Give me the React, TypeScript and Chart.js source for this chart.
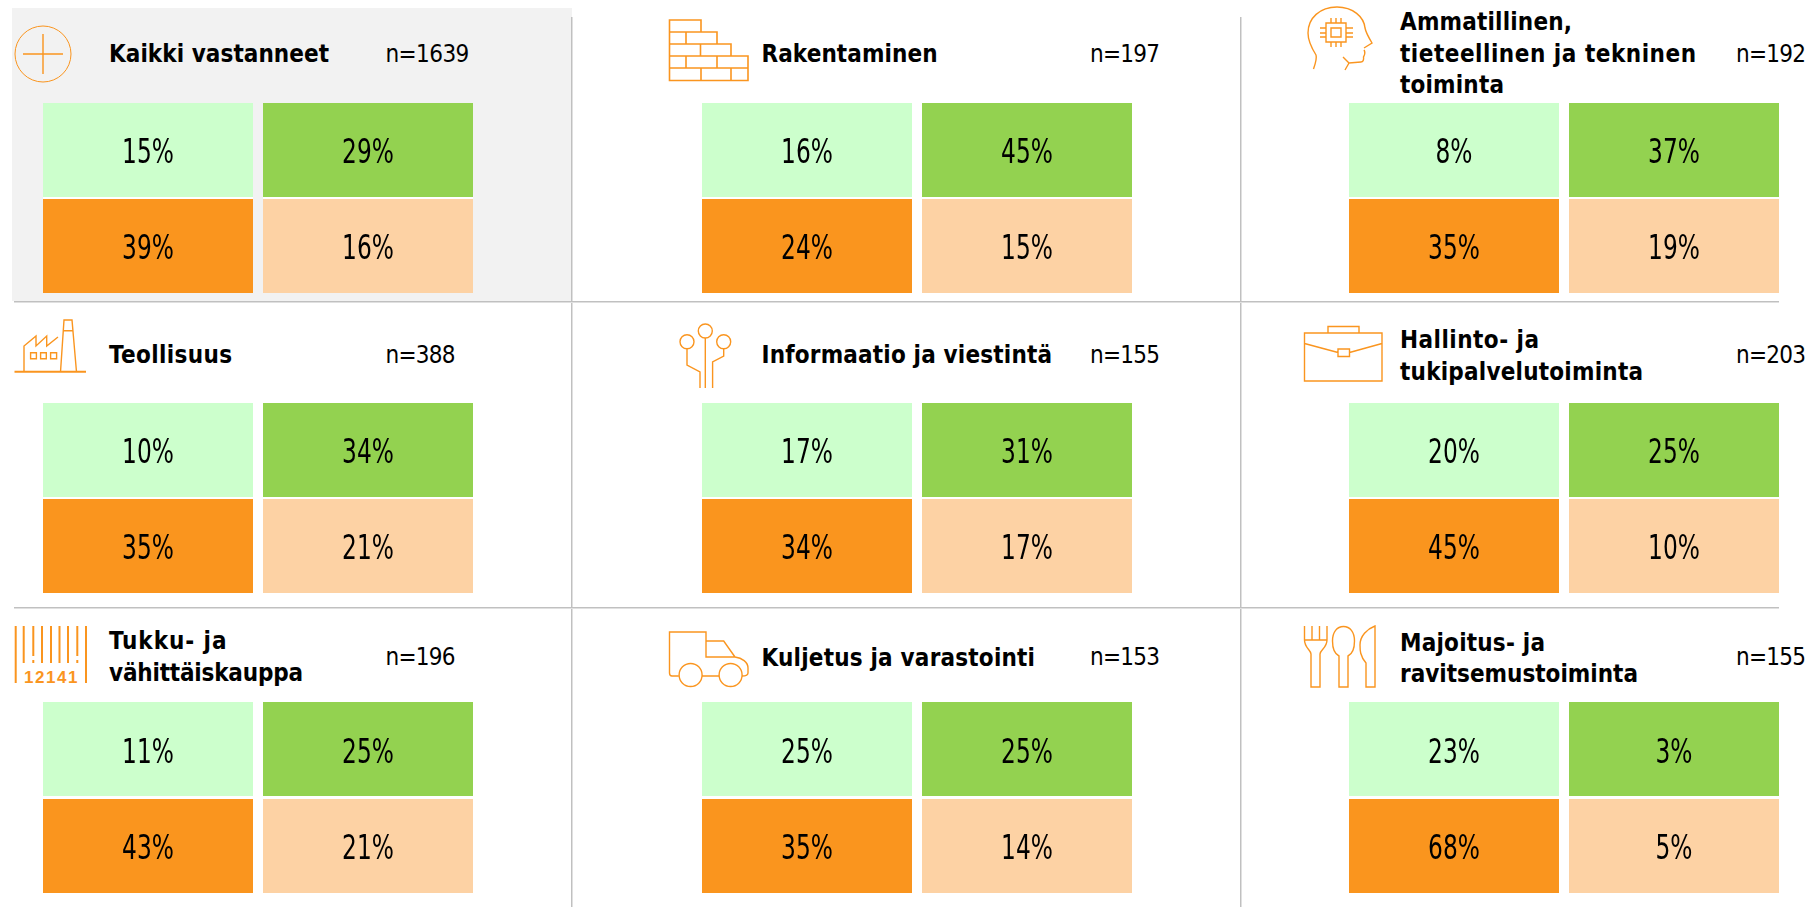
import React, { useEffect, useRef } from "react";
import { Chart, registerables } from "chart.js";

Chart.register(...registerables);

// ---------- data ----------
const categories = [
  "Kaikki vastanneet",
  "Rakentaminen",
  "Ammatillinen,\ntieteellinen ja tekninen\ntoiminta",
  "Teollisuus",
  "Informaatio ja viestintä",
  "Hallinto- ja\ntukipalvelutoiminta",
  "Tukku- ja\nvähittäiskauppa",
  "Kuljetus ja varastointi",
  "Majoitus- ja\nravitsemustoiminta",
];
const sampleSizes = [1639, 197, 192, 388, 155, 203, 196, 153, 155];
const topLeft = [15, 16, 8, 10, 17, 20, 11, 25, 23];
const topRight = [29, 45, 37, 34, 31, 25, 25, 25, 3];
const bottomLeft = [39, 24, 35, 35, 34, 45, 43, 35, 68];
const bottomRight = [16, 15, 19, 21, 17, 10, 21, 14, 5];
const quadrantColumns = ["vasen", "oikea"];
const tileSize = [1, 1];

// ---------- layout & style ----------
const ORANGE = "#fa951f";
const COLORS = { tl: "#ccffcc", tr: "#93d250", bl: "#fa951e", br: "#fdd2a4" };
const FONT = "'DejaVu Sans Condensed','DejaVu Sans',sans-serif";
const colCanvasLeft = [38, 697, 1344];
const rowCanvas = [
  { top: 103, h: 190, gap: 1 },
  { top: 403, h: 190, gap: 1 },
  { top: 702, h: 191, gap: 1.5 },
];
const titleX = [109, 761.5, 1400];
const nX = [385.5, 1090, 1736];
const titleCenterY = [
  [54], [54], [21.7, 53.3, 85],
  [355], [355], [339.5, 371.5],
  [641, 673], [657.5], [642.5, 674],
];
const titleWidths = [
  [220], [176], [172, 296, 104],
  [123], [290.5], [139, 243],
  [117.5, 194], [273.5], [145, 238],
];
const nCenterY = [54, 54, 54, 355, 355, 355, 657, 657, 657];

const tileLabels = {
  id: "tileLabels",
  afterDatasetsDraw(chart: any) {
    const { ctx } = chart;
    chart.data.datasets.forEach((ds: any, di: number) => {
      const meta = chart.getDatasetMeta(di);
      meta.data.forEach((bar: any, i: number) => {
        const c = bar.getCenterPoint();
        ctx.save();
        ctx.translate(c.x, c.y + ds.labelDrop);
        ctx.scale(0.785, 1);
        ctx.fillStyle = "#000";
        ctx.font = `33px ${FONT}`;
        ctx.textAlign = "center";
        ctx.textBaseline = "alphabetic";
        ctx.fillText(`${ds.values[i]}%`, 0, 0);
        ctx.restore();
      });
    });
  },
};

function Tile({ index }: { index: number }) {
  const ref = useRef<HTMLCanvasElement>(null);
  const col = index % 3;
  const row = rowCanvas[Math.floor(index / 3)];
  useEffect(() => {
    const chart = new Chart(ref.current!, {
      type: "bar",
      data: {
        labels: quadrantColumns,
        datasets: [
          {
            label: "alempi",
            data: tileSize,
            values: [bottomLeft[index], bottomRight[index]],
            labelDrop: 13.5,
            backgroundColor: [COLORS.bl, COLORS.br],
            borderColor: "#ffffff",
            borderWidth: { top: row.gap, bottom: 0, left: 0, right: 0 },
            borderSkipped: false,
            barPercentage: 210 / 220,
            categoryPercentage: 1,
          },
          {
            label: "ylempi",
            data: tileSize,
            values: [topLeft[index], topRight[index]],
            labelDrop: 12.8,
            backgroundColor: [COLORS.tl, COLORS.tr],
            borderColor: "#ffffff",
            borderWidth: { top: 0, bottom: row.gap, left: 0, right: 0 },
            borderSkipped: false,
            barPercentage: 210 / 220,
            categoryPercentage: 1,
          },
        ] as any,
      },
      options: {
        animation: false,
        responsive: false,
        layout: { padding: 0 },
        plugins: { legend: { display: false }, tooltip: { enabled: false }, title: { display: false } },
        scales: {
          x: { display: false, stacked: true, grid: { display: false } },
          y: { display: false, stacked: true, min: 0, max: 2, grid: { display: false } },
        },
      },
      plugins: [tileLabels],
    });
    return () => chart.destroy();
  }, []);
  return (
    <canvas
      ref={ref}
      width={440}
      height={row.h}
      style={{ position: "absolute", left: colCanvasLeft[col], top: row.top, width: 440, height: row.h, display: "block" }}
    />
  );
}

function Icons() {
  return (
    <svg width={1816} height={907} style={{ position: "absolute", left: 0, top: 0 }} fill="none" stroke={ORANGE} strokeWidth={1.4}>
      {/* plus in circle */}
      <ellipse cx={43} cy={54} rx={28} ry={28} strokeWidth={1} />
      <path d="M23 54H63M43 34V74" />
      {/* brick wall */}
      <path
        strokeWidth={1.6}
        d="M669.5 20H701V32H717V44H731V56H748V80.5H669.5ZM669.5 32H701M669.5 44H717M669.5 56H731M669.5 68H748M686 32V44M700.5 44V56M686 56V68M717 56V68M701 68V80.5M731 68V80.5"
      />
      {/* head */}
      <path d="M1313.5 69C1316 62 1317 58 1316 55C1311 47 1308 41 1308 33C1308 18 1320 7 1337 7C1353 7 1364 17 1365 28C1366 33 1369 38 1372 43L1364 48M1364 50C1366 53 1364 56 1363.5 57C1364 60 1363 62 1361 62L1349 63L1343 57M1349 63L1345 70" />
      <path d="M1331 28H1341V37H1331ZM1326 23H1346V42H1326ZM1320 28H1326M1320 33H1326M1320 37H1326M1346 28H1353M1346 33H1353M1346 37H1353M1331 18V23M1336 18V23M1341 18V23M1331 42V47M1336 42V47M1341 42V47" />
      {/* factory */}
      <path d="M24 372V346L36 336V346L46.7 336V346L58 337M60.5 372L64 320H72L76.5 372M63 330.7H73.5" />
      <path d="M14.5 371.7H86" strokeWidth={2} />
      <path d="M30.6 352.7H36.4V358.7H30.6ZM40.6 352.7H46.3V358.7H40.6ZM50.6 352.7H56.6V358.7H50.6Z" />
      {/* circuit */}
      <circle cx={705.3} cy={331} r={7} />
      <circle cx={687} cy={341.7} r={7} />
      <circle cx={723.7} cy={341.7} r={7} />
      <path d="M705.3 338V388M687 349V365L700 372V388M723.7 349V356L712.6 362V388" />
      {/* briefcase */}
      <path d="M1304.5 333H1382V381H1304.5ZM1328 333V326.5H1359V333M1304.5 343.5L1338 352.5M1349.5 352.5L1382 343.5M1338 349H1349.5V356.5H1338Z" />
      {/* barcode */}
      <path
        strokeWidth={2}
        d="M15.7 626V683M86 626V683M23.7 626V663M42 626V663M51 626V663M59.5 626V663M68 626V663M33.3 626V656M33.3 660V663M77.3 626V656M77.3 660V663"
      />
      <text x={51.5} y={682.5} textAnchor="middle" stroke="none" fill={ORANGE} style={{ font: "bold 17px 'Liberation Sans'", letterSpacing: 1.5 }}>12141</text>
      {/* truck */}
      <path d="M678.8 676H672Q669.5 676 669.5 673V632H706V641H723.7L735 657C742 658 748 662 748 668V673Q748 676 742 676M702 676H719M706 641V657H735" />
      <circle cx={690.6} cy={675} r={11.5} />
      <circle cx={730.6} cy={675} r={11.5} />
      {/* cutlery */}
      <path d="M1304.5 626V640C1304.5 648 1311 650 1311 654V687H1320V654C1320 650 1327 648 1327 640V626M1312 626V640M1319.5 626V640M1304.5 640H1327" />
      <path d="M1339 687V656C1335 654 1332.5 648 1332.5 641C1332.5 632 1337 626.5 1343.5 626.5C1350 626.5 1354.5 632 1354.5 641C1354.5 648 1352 654 1348 656V687Z" />
      <path d="M1375 626V687H1366V663C1360 656 1360 650 1360 645C1360 636 1367 629 1375 626Z" />
    </svg>
  );
}

function Labels() {
  return (
    <svg width={1816} height={907} style={{ position: "absolute", left: 0, top: 0 }} fontFamily={FONT} fontSize={24} fill="#000">
      {categories.map((c, i) => (
        <g key={c}>
          {c.split("\n").map((line, k) => (
            <text key={k} x={titleX[i % 3]} y={titleCenterY[i][k] + 8.3} fontWeight={700} textLength={titleWidths[i][k]} lengthAdjust="spacing">
              {line}
            </text>
          ))}
          <text x={nX[i % 3]} y={nCenterY[i] + 8.3} textLength={String(sampleSizes[i]).length > 3 ? 83.8 : 70} lengthAdjust="spacing">
            {`n=${sampleSizes[i]}`}
          </text>
        </g>
      ))}
    </svg>
  );
}

const VLine = ({ x }: { x: number }) => (
  <>
    <div style={{ position: "absolute", left: x, top: 17, width: 1, height: 890, background: "#c0c0c0" }} />
    <div style={{ position: "absolute", left: x + 1, top: 17, width: 1, height: 890, background: "#e0e0e0" }} />
  </>
);
const HLine = ({ y }: { y: number }) => (
  <>
    <div style={{ position: "absolute", left: 14, top: y, width: 1765, height: 1, background: "#c0c0c0" }} />
    <div style={{ position: "absolute", left: 14, top: y + 1, width: 1765, height: 1, background: "#e0e0e0" }} />
  </>
);

export default function App() {
  return (
    <div style={{ position: "absolute", left: 0, top: 0, width: 1816, height: 907, overflow: "hidden", background: "#fff" }}>
      <div style={{ position: "absolute", left: 12, top: 8, width: 560, height: 293, background: "#f2f2f2" }} />
      <VLine x={571} />
      <VLine x={1240} />
      <HLine y={301} />
      <HLine y={607} />
      <Icons />
      <Labels />
      {categories.map((c, i) => (
        <Tile key={c} index={i} />
      ))}
    </div>
  );
}
